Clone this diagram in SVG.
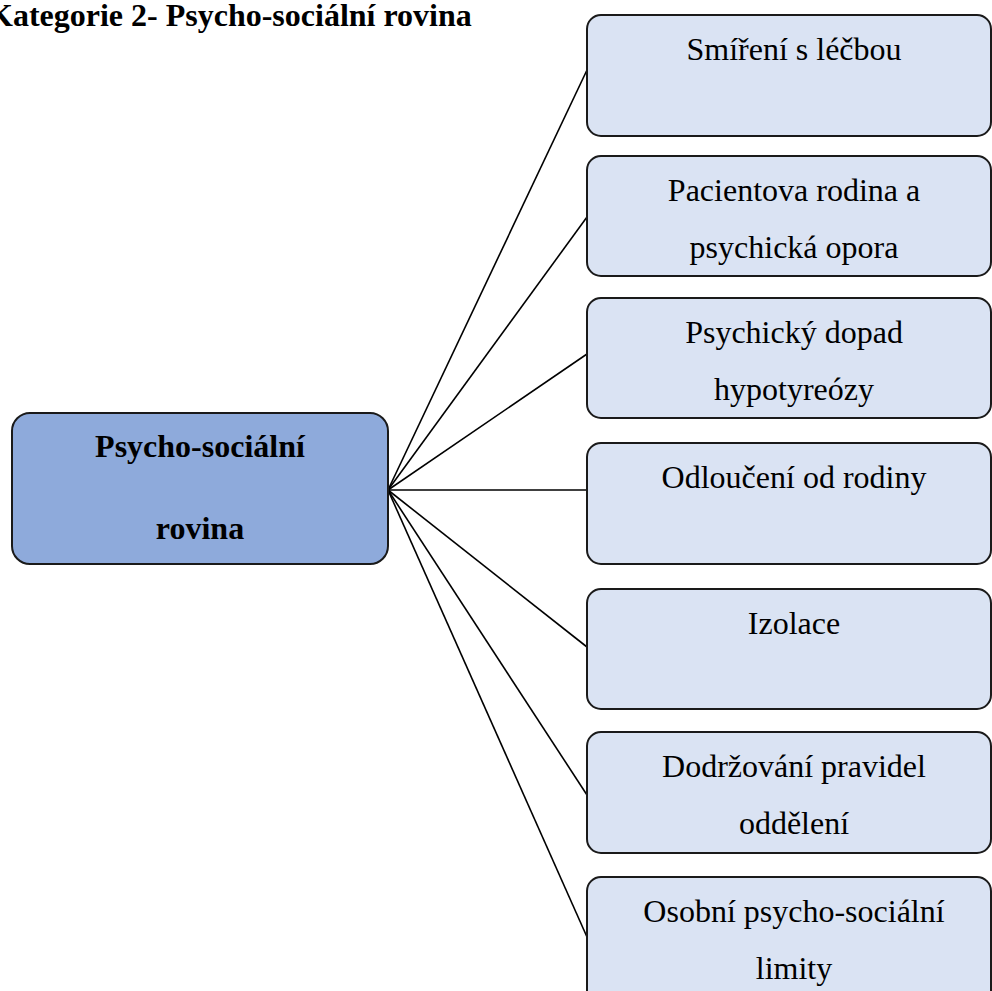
<svg xmlns="http://www.w3.org/2000/svg" width="992" height="991" viewBox="0 0 992 991">
<style>
  .title { font-family: "Liberation Serif", "Times New Roman", serif; font-weight: bold; font-size: 32px; fill: #000; }
  .main rect { fill: #8EAADB; stroke: #1a1a1a; stroke-width: 2; }
  .main text { font-family: "Liberation Serif", "Times New Roman", serif; font-weight: bold; font-size: 32px; fill: #000; text-anchor: middle; }
  .sub rect { fill: #DAE3F3; stroke: #1a1a1a; stroke-width: 2; }
  .sub text { font-family: "Liberation Serif", "Times New Roman", serif; font-size: 32px; fill: #000; text-anchor: middle; }
  .conn line { stroke: #000; stroke-width: 1.6; }
</style>
<rect x="0" y="0" width="992" height="991" fill="#fff"/>
<text class="title" x="-12" y="26">Kategorie 2- Psycho-sociální rovina</text>
<g id="connectors" class="conn">
  <line x1="388" y1="490" x2="587" y2="70"/>
  <line x1="388" y1="490" x2="587" y2="217"/>
  <line x1="388" y1="490" x2="587" y2="354"/>
  <line x1="388" y1="490" x2="587" y2="490"/>
  <line x1="388" y1="490" x2="587" y2="647"/>
  <line x1="388" y1="490" x2="587" y2="795"/>
  <line x1="388" y1="490" x2="587" y2="937"/>
</g>
<g id="root" class="main">
  <rect x="12" y="413" width="376" height="151" rx="18" ry="18"/>
  <text x="200" y="457">Psycho-sociální</text>
  <text x="200" y="539">rovina</text>
</g>
<g id="n1" class="sub">
  <rect x="587" y="15" width="404" height="121" rx="14" ry="14"/>
  <text x="794" y="60">Smíření s léčbou</text>
</g>
<g id="n2" class="sub">
  <rect x="587" y="156" width="404" height="120" rx="14" ry="14"/>
  <text x="794" y="201">Pacientova rodina a</text>
  <text x="794" y="258">psychická opora</text>
</g>
<g id="n3" class="sub">
  <rect x="587" y="298" width="404" height="120" rx="14" ry="14"/>
  <text x="794" y="343">Psychický dopad</text>
  <text x="794" y="400">hypotyreózy</text>
</g>
<g id="n4" class="sub">
  <rect x="587" y="443" width="404" height="121" rx="14" ry="14"/>
  <text x="794" y="488">Odloučení od rodiny</text>
</g>
<g id="n5" class="sub">
  <rect x="587" y="589" width="404" height="120" rx="14" ry="14"/>
  <text x="794" y="634">Izolace</text>
</g>
<g id="n6" class="sub">
  <rect x="587" y="732" width="404" height="121" rx="14" ry="14"/>
  <text x="794" y="777">Dodržování pravidel</text>
  <text x="794" y="834">oddělení</text>
</g>
<g id="n7" class="sub">
  <rect x="587" y="877" width="404" height="130" rx="14" ry="14"/>
  <text x="794" y="922">Osobní psycho-sociální</text>
  <text x="794" y="979">limity</text>
</g>
</svg>
